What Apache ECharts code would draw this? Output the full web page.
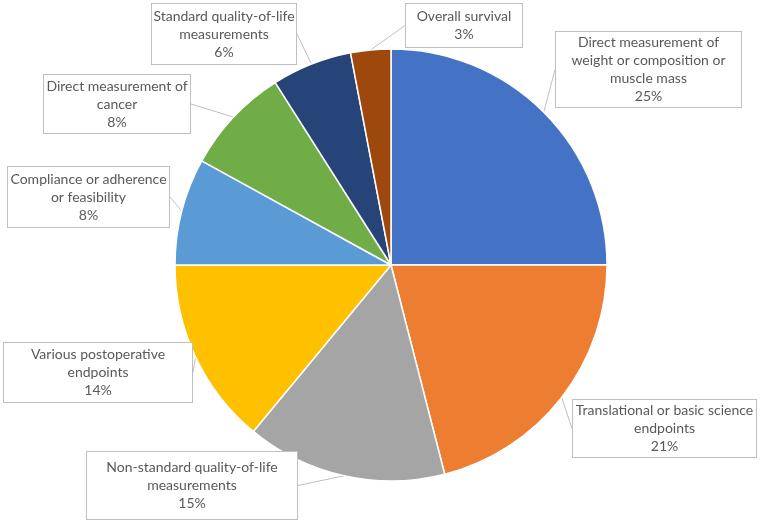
<!DOCTYPE html>
<html>
<head>
<meta charset="utf-8">
<script src="https://cdn.jsdelivr.net/npm/echarts@6/dist/echarts.min.js"></script>
<style>
  html, body { margin: 0; padding: 0; background: #fff; }
  #chart { width: 760px; height: 524px; }
</style>
</head>
<body>
<div id="chart"></div>
<script>
// categories as printed in the callouts (line breaks as in the picture)
const categories = [
  'Direct measurement of\nweight or composition or\nmuscle mass',
  'Translational or basic science\nendpoints',
  'Non-standard quality-of-life\nmeasurements',
  'Various postoperative\nendpoints',
  'Compliance or adherence\nor feasibility',
  'Direct measurement of\ncancer',
  'Standard quality-of-life\nmeasurements',
  'Overall survival'
];
const values = [25, 21, 15, 14, 8, 8, 6, 3];
const colors = ['#4472C4', '#ED7D31', '#A5A5A5', '#FFC000', '#5B9BD5', '#70AD47', '#264478', '#9E480E'];

// callout boxes: left, top, right, bottom (px)
const boxes = [
  [555, 32, 742, 107],
  [572, 400, 757, 457],
  [86, 452, 298, 519],
  [3, 343, 193, 402],
  [7, 167, 170, 227],
  [43, 75, 191, 133],
  [151, 4, 297, 64],
  [405, 4, 523, 47]
];

const LINE_H = 18;

const chart = echarts.init(document.getElementById('chart'));

const seriesData = categories.map((name, i) => {
  const b = boxes[i];
  const lines = name.split('\n').length + 1;
  const padV = Math.max(0, ((b[3] - b[1]) - lines * LINE_H) / 2);
  return {
    name: name,
    value: values[i],
    itemStyle: { color: colors[i] },
    label: {
      width: b[2] - b[0] - 2,
      padding: [padV, 0, padV, 0]
    }
  };
});

chart.setOption({
  animation: false,
  series: [
    {
      type: 'pie',
      center: [391, 265],
      radius: 216,
      startAngle: 90,
      clockwise: true,
      itemStyle: {
        borderColor: '#fff',
        borderWidth: 1.5
      },
      label: {
        show: true,
        position: 'outside',
        formatter: (p) => p.name + '\n' + Math.round(p.percent) + '%',
        fontFamily: 'Lato',
        fontSize: 14,
        lineHeight: LINE_H,
        color: '#595959',
        align: 'center',
        overflow: 'none',
        backgroundColor: '#fff',
        borderColor: '#bfbfbf',
        borderWidth: 1
      },
      labelLine: {
        show: true,
        length: 0,
        length2: 0,
        lineStyle: { color: '#bfbfbf', width: 1 }
      },
      labelLayout: function (params) {
        const b = boxes[params.dataIndex];
        return {
          x: (b[0] + b[2]) / 2,
          y: (b[1] + b[3]) / 2,
          align: 'center',
          verticalAlign: 'middle',
          hideOverlap: false
        };
      },
      emphasis: { disabled: true },
      data: seriesData
    }
  ]
});
</script>
</body>
</html>
